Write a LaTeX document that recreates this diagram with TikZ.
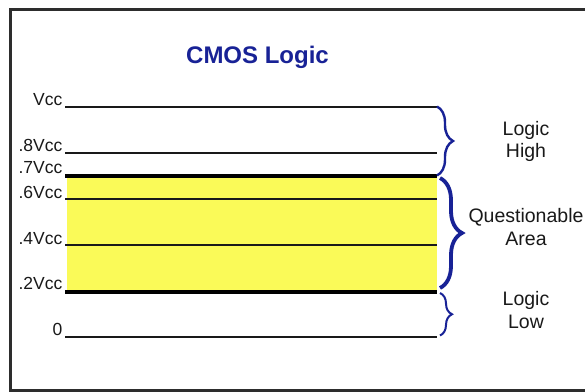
\documentclass[tikz,border=0pt]{standalone}
\usepackage{fontspec}
\setmainfont{Liberation Sans}
\usetikzlibrary{decorations.pathreplacing}
\definecolor{framegray}{RGB}{45,45,45}
\definecolor{logicblue}{RGB}{24,34,150}
\definecolor{zoneyellow}{RGB}{250,250,88}
\definecolor{inktext}{RGB}{25,25,25}
\begin{document}
\begin{tikzpicture}[x=1pt,y=-1pt,
  level/.style={line width=2pt, draw=inktext},
  levelthick/.style={line width=4.5pt, draw=black},
  lvllabel/.style={anchor=base east, inner sep=0pt, text=inktext,
    font=\fontsize{17.5}{17.5}\selectfont},
  zonebrace/.style={decorate, decoration={brace, amplitude=#1}, draw=logicblue},
  zonetext/.style={align=center, anchor=base, inner sep=0pt, text=inktext,
    font=\fontsize{19.5}{22.7}\selectfont},
]
\useasboundingbox (0,0) rectangle (585,391);
\fill[white] (0,0) rectangle (585,391);

% outer frame (open on the right)
\draw[framegray, line width=3pt] (585,9.5) -- (10.5,9.5) -- (10.5,390) -- (585,390);

% title
\node (title) [anchor=base, inner sep=0pt, text=logicblue,
  font=\fontsize{24}{24}\selectfont\bfseries] at (257.5,63) {CMOS Logic};

% undefined input band between .2Vcc and .7Vcc
\fill[zoneyellow] (66.5,178) rectangle (436.5,290);

% voltage levels: start / end coordinates
\coordinate (s1) at (65,106.7);  \coordinate (e1) at (436.5,106.7);
\coordinate (s2) at (65,152.7);  \coordinate (e2) at (436.5,152.7);
\coordinate (s3) at (65,176);    \coordinate (e3) at (436.5,176);
\coordinate (s4) at (65,199.3);  \coordinate (e4) at (436.5,199.3);
\coordinate (s5) at (65,245);    \coordinate (e5) at (436.5,245);
\coordinate (s6) at (65,292);    \coordinate (e6) at (436.5,292);
\coordinate (s7) at (65,336.7);  \coordinate (e7) at (436.5,336.7);

\draw[level]      (s1) -- (e1);
\draw[level]      (s2) -- (e2);
\draw[levelthick] (s3) -- (e3);
\draw[level]      (s4) -- (e4);
\draw[level]      (s5) -- (e5);
\draw[levelthick] (s6) -- (e6);
\draw[level]      (s7) -- (e7);

% level labels
\node[lvllabel] (lab1) at (62.5,105.7) {Vcc};
\node[lvllabel] (lab2) at (62.5,151.7) {.8Vcc};
\node[lvllabel] (lab3) at (62.5,173.7) {.7Vcc};
\node[lvllabel] (lab4) at (62.5,198.3) {.6Vcc};
\node[lvllabel] (lab5) at (62.5,244) {.4Vcc};
\node[lvllabel] (lab6) at (62.5,289.7) {.2Vcc};
\node[lvllabel] (lab7) at (62.5,335.7) {0};

% zone braces
\coordinate (hiTop) at (437,106.5);  \coordinate (hiBot) at (437,175.5);
\coordinate (qTop)  at (440,178);    \coordinate (qBot)  at (440,288);
\coordinate (loTop) at (440,293);    \coordinate (loBot) at (440,335.5);
\draw[zonebrace=16, line width=2.4pt] (hiTop) -- (hiBot);
\draw[zonebrace=22, line width=3.8pt] (qTop) -- (qBot);
\draw[zonebrace=12, line width=2pt] (loTop) -- (loBot);

% zone names (anchor at the baseline of the second line)
\node[zonetext] (hiText) at (526,157.7) {Logic\\High};
\node[zonetext] (qText)  at (526,245)   {Questionable\\Area};
\node[zonetext] (loText) at (526,328)   {Logic\\Low};
\end{tikzpicture}
\end{document}
